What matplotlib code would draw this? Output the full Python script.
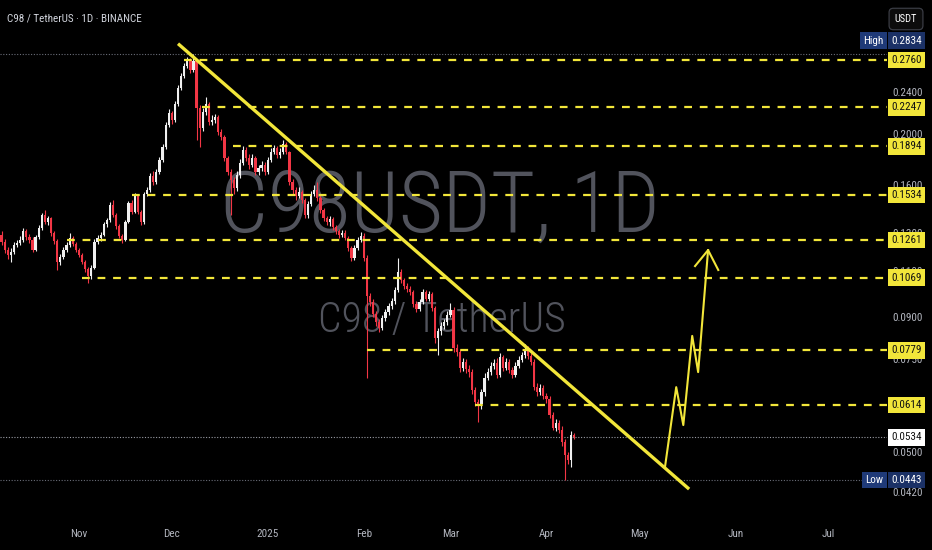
import matplotlib
matplotlib.use('Agg')
import matplotlib.pyplot as plt
import matplotlib.dates as mdates
import matplotlib.transforms as mtrans
from matplotlib import font_manager as fm
from matplotlib.ticker import FixedLocator, FixedFormatter, NullLocator
import pandas as pd

# ---- daily candles C98/USDT (Binance) ----
first_day = '2024-10-07'
first_open = 0.1288
closes = [0.1250, 0.1207, 0.1181, 0.1197, 0.1234, 0.1245, 0.1261, 0.1310, 0.1277, 0.1261,
          0.1207, 0.1277, 0.1327, 0.1405, 0.1363, 0.1387, 0.1299, 0.1256, 0.1146, 0.1171,
          0.1207, 0.1234, 0.1272, 0.1240, 0.1207, 0.1181, 0.1146, 0.1112, 0.1078, 0.1117,
          0.1250, 0.1272, 0.1288, 0.1351, 0.1375, 0.1468, 0.1405, 0.1339, 0.1283, 0.1261,
          0.1363, 0.1481, 0.1424, 0.1526, 0.1424, 0.1363, 0.1540, 0.1567, 0.1666, 0.1622,
          0.1695, 0.1786, 0.1890, 0.2079, 0.2191, 0.2125, 0.2278, 0.2442, 0.2573, 0.2688,
          0.2760, 0.2641, 0.2748, 0.2239, 0.2052, 0.2200, 0.2278, 0.2107, 0.2125, 0.2153,
          0.2017, 0.1974, 0.1802, 0.1695, 0.1637, 0.1581, 0.1673, 0.1762, 0.1865, 0.1802,
          0.1747, 0.1802, 0.1695, 0.1724, 0.1747, 0.1695, 0.1786, 0.1849, 0.1881, 0.1825,
          0.1849, 0.1914, 0.1849, 0.1622, 0.1567, 0.1526, 0.1553, 0.1500, 0.1405, 0.1474,
          0.1540, 0.1567, 0.1513, 0.1436, 0.1387, 0.1363, 0.1381, 0.1333, 0.1310, 0.1288,
          0.1299, 0.1272, 0.1218, 0.1166, 0.1218, 0.1261, 0.1283, 0.1166, 0.0989, 0.0963,
          0.0914, 0.0882, 0.0860, 0.0898, 0.0922, 0.0946, 0.0967, 0.1014, 0.1097, 0.1059,
          0.1033, 0.1019, 0.1006, 0.0954, 0.0934, 0.0963, 0.1006, 0.0975, 0.0997, 0.0938,
          0.0823, 0.0848, 0.0867, 0.0882, 0.0910, 0.0930, 0.0788, 0.0774, 0.0722, 0.0741,
          0.0719, 0.0710, 0.0656, 0.0623, 0.0618, 0.0650, 0.0692, 0.0710, 0.0729, 0.0738,
          0.0701, 0.0758, 0.0722, 0.0741, 0.0716, 0.0701, 0.0729, 0.0748, 0.0764, 0.0784,
          0.0761, 0.0741, 0.0665, 0.0650, 0.0662, 0.0639, 0.0631, 0.0589, 0.0557, 0.0567,
          0.0552, 0.0524, 0.0495, 0.0484, 0.0540, 0.0534]
highs = [0.1310, 0.1268, 0.1225, 0.1215, 0.1250, 0.1262, 0.1280, 0.1330, 0.1325, 0.1295,
         0.1275, 0.1290, 0.1345, 0.1420, 0.1436, 0.1400, 0.1395, 0.1310, 0.1265, 0.1185,
         0.1222, 0.1250, 0.1300, 0.1285, 0.1252, 0.1215, 0.1190, 0.1155, 0.1120, 0.1128,
         0.1265, 0.1290, 0.1305, 0.1365, 0.1390, 0.1490, 0.1500, 0.1415, 0.1350, 0.1295,
         0.1375, 0.1495, 0.1500, 0.1545, 0.1540, 0.1435, 0.1555, 0.1590, 0.1690, 0.1700,
         0.1715, 0.1810, 0.1915, 0.2110, 0.2230, 0.2215, 0.2310, 0.2480, 0.2610, 0.2730,
         0.2800, 0.2790, 0.2834, 0.2770, 0.2270, 0.2240, 0.2350, 0.2300, 0.2170, 0.2180,
         0.2170, 0.2040, 0.1990, 0.1820, 0.1720, 0.1660, 0.1700, 0.1790, 0.1900, 0.1890,
         0.1830, 0.1830, 0.1820, 0.1750, 0.1775, 0.1770, 0.1810, 0.1880, 0.1910, 0.1900,
         0.1880, 0.1948, 0.1930, 0.1860, 0.1645, 0.1590, 0.1590, 0.1570, 0.1515, 0.1495,
         0.1560, 0.1600, 0.1620, 0.1530, 0.1450, 0.1400, 0.1400, 0.1395, 0.1345, 0.1325,
         0.1318, 0.1315, 0.1285, 0.1230, 0.1235, 0.1275, 0.1305, 0.1300, 0.1180, 0.1000,
         0.0975, 0.0925, 0.0895, 0.0910, 0.0935, 0.0958, 0.0980, 0.1025, 0.1166, 0.1110,
         0.1070, 0.1045, 0.1030, 0.1015, 0.0965, 0.0975, 0.1020, 0.1015, 0.1010, 0.1005,
         0.0945, 0.0860, 0.0880, 0.0895, 0.0925, 0.0960, 0.0940, 0.0800, 0.0785, 0.0755,
         0.0750, 0.0730, 0.0720, 0.0665, 0.0632, 0.0660, 0.0705, 0.0722, 0.0740, 0.0750,
         0.0755, 0.0770, 0.0765, 0.0755, 0.0752, 0.0725, 0.0740, 0.0760, 0.0775, 0.0800,
         0.0795, 0.0770, 0.0750, 0.0675, 0.0672, 0.0670, 0.0648, 0.0638, 0.0595, 0.0578,
         0.0575, 0.0560, 0.0530, 0.0500, 0.0548, 0.0545]
lows = [0.1235, 0.1190, 0.1160, 0.1146, 0.1185, 0.1220, 0.1232, 0.1250, 0.1262, 0.1245,
        0.1195, 0.1200, 0.1268, 0.1318, 0.1350, 0.1345, 0.1285, 0.1240, 0.1107, 0.1130,
        0.1160, 0.1198, 0.1225, 0.1228, 0.1195, 0.1168, 0.1135, 0.1098, 0.1046, 0.1065,
        0.1110, 0.1238, 0.1255, 0.1280, 0.1335, 0.1365, 0.1395, 0.1325, 0.1270, 0.1245,
        0.1255, 0.1355, 0.1410, 0.1415, 0.1410, 0.1345, 0.1350, 0.1525, 0.1555, 0.1600,
        0.1610, 0.1680, 0.1770, 0.1875, 0.2060, 0.2090, 0.2105, 0.2255, 0.2420, 0.2550,
        0.2660, 0.2610, 0.2620, 0.1948, 0.1890, 0.2030, 0.2170, 0.2080, 0.2080, 0.2100,
        0.1995, 0.1950, 0.1780, 0.1670, 0.1405, 0.1540, 0.1560, 0.1650, 0.1745, 0.1780,
        0.1720, 0.1730, 0.1670, 0.1670, 0.1700, 0.1670, 0.1680, 0.1770, 0.1830, 0.1800,
        0.1805, 0.1835, 0.1830, 0.1600, 0.1540, 0.1500, 0.1510, 0.1480, 0.1385, 0.1390,
        0.1460, 0.1525, 0.1495, 0.1420, 0.1370, 0.1345, 0.1340, 0.1318, 0.1295, 0.1272,
        0.1275, 0.1258, 0.1200, 0.1150, 0.1155, 0.1205, 0.1250, 0.1150, 0.0690, 0.0945,
        0.0900, 0.0865, 0.0845, 0.0850, 0.0885, 0.0910, 0.0935, 0.0955, 0.1005, 0.1045,
        0.1020, 0.1005, 0.0990, 0.0940, 0.0920, 0.0925, 0.0955, 0.0965, 0.0965, 0.0925,
        0.0805, 0.0765, 0.0835, 0.0855, 0.0870, 0.0900, 0.0775, 0.0760, 0.0710, 0.0712,
        0.0705, 0.0695, 0.0645, 0.0612, 0.0570, 0.0605, 0.0640, 0.0685, 0.0700, 0.0720,
        0.0690, 0.0695, 0.0712, 0.0715, 0.0705, 0.0690, 0.0695, 0.0722, 0.0740, 0.0755,
        0.0752, 0.0732, 0.0655, 0.0640, 0.0642, 0.0630, 0.0620, 0.0580, 0.0550, 0.0548,
        0.0545, 0.0515, 0.0443, 0.0475, 0.0469, 0.0530]

# horizontal levels drawn on the chart and the day each one starts
levels = [0.2760, 0.2247, 0.1894, 0.1534, 0.1261, 0.1069, 0.0779, 0.0614]
level_starts = ['2024-12-05', '2024-12-10 17:00', '2024-12-20 19:00', '2024-11-18',
                '2024-10-28', '2024-11-02', '2025-02-02', '2025-03-09']

# falling trend line and projected path
trend_dates = ['2024-12-03', '2025-05-17 02:00']
trend_prices = [0.2963, 0.0426]
path_dates = ['2025-05-09 07:00', '2025-05-12 22:00', '2025-05-15 05:00',
              '2025-05-18 02:00', '2025-05-20', '2025-05-23 05:00']
path_prices = [0.0469, 0.0664, 0.0563, 0.0830, 0.0709, 0.1206]
head_dates = ['2025-05-19', '2025-05-23 05:00', '2025-05-26 12:00']
head_prices = [0.1125, 0.1206, 0.1106]

high_price, low_price, last_price = 0.2834, 0.0443, 0.0534

axis_ticks = [0.24, 0.20, 0.16, 0.13, 0.11, 0.09, 0.075, 0.05, 0.042]
axis_labels = ['0.2400', '0.2000', '0.1600', '0.1300', '0.1100', '0.0900', '0.0750', '0.0500', '0.0420']
month_ticks = ['2024-11-01', '2024-12-01', '2025-01-01', '2025-02-01', '2025-03-01',
               '2025-04-01', '2025-05-01', '2025-06-01', '2025-07-01']
month_labels = ['Nov', 'Dec', '2025', 'Feb', 'Mar', 'Apr', 'May', 'Jun', 'Jul']

# colours
BG = '#000000'
UP = '#f0f0f0'
DOWN = '#f23645'
YEL = '#f2e63a'
AXTXT = '#b2b5be'
WATER = '#51535c'

# narrow font if there is one (the screenshot text is condensed)
names = {f.name for f in fm.fontManager.ttflist}
narrow = 'Roboto'
for n in ['Roboto Condensed', 'Liberation Sans Narrow', 'Open Sans Condensed']:
    if n in names:
        narrow = n
        break
plt.rcParams['font.family'] = [narrow, 'DejaVu Sans']

fig = plt.figure(figsize=(9.32, 5.5), dpi=100, facecolor=BG)
ax = fig.add_axes([0, 32 / 550, 887 / 932, 518 / 550], facecolor=BG)
ax.set_yscale('log')

dates = mdates.date2num(pd.date_range(first_day, periods=len(closes), freq='D'))
opens = [first_open] + closes[:-1]
cols = [UP if c >= o else DOWN for o, c in zip(opens, closes)]
bottoms = [min(o, c) for o, c in zip(opens, closes)]
heights = [max(abs(c - o), 0.0002) for o, c in zip(opens, closes)]

ax.vlines(dates, lows, highs, colors=cols, linewidth=0.8, zorder=3)
ax.bar(dates, heights, bottom=bottoms, width=0.72, color=cols, linewidth=0, zorder=4)

ax.set_xlim(mdates.datestr2num('2024-10-06 12:00'), mdates.datestr2num('2025-07-20'))
ax.set_ylim(0.03756, 0.3584)
x_right = ax.get_xlim()[1]

# watermark
ax.text(0.496, 0.598, 'C98USDT, 1D', transform=ax.transAxes, ha='center', va='center',
        fontsize=61, fontweight='light', color=WATER, zorder=1)
ax.text(0.498, 0.381, 'C98 / TetherUS', transform=ax.transAxes, ha='center', va='center',
        fontsize=30, fontweight='light', color=WATER, zorder=1)

# levels
for p, s in zip(levels, level_starts):
    ax.plot([mdates.datestr2num(s), x_right], [p, p], color=YEL, linewidth=1.6,
            dashes=(3.5, 3.5), zorder=5)

# dotted markers for high / low / last
ax.axhline(high_price, color='#6a6d78', linewidth=0.8, linestyle=(0, (1, 1.5)), zorder=2)
ax.axhline(low_price, color='#6a6d78', linewidth=0.8, linestyle=(0, (1, 1.5)), zorder=2)
ax.axhline(last_price, color='#9a9ca4', linewidth=0.8, linestyle=(0, (1, 1.5)), zorder=2)

# trend line + projection
ax.plot(mdates.datestr2num(trend_dates), trend_prices, color=YEL, linewidth=2.4,
        solid_capstyle='butt', zorder=6)
ax.plot(mdates.datestr2num(path_dates), path_prices, color=YEL, linewidth=1.5, zorder=6)
ax.plot(mdates.datestr2num(head_dates), head_prices, color=YEL, linewidth=1.5, zorder=6)

# axes cosmetics
for sp in ax.spines.values():
    sp.set_visible(False)
ax.yaxis.tick_right()
ax.yaxis.set_major_locator(FixedLocator(axis_ticks))
ax.yaxis.set_major_formatter(FixedFormatter(axis_labels))
ax.yaxis.set_minor_locator(NullLocator())
ax.tick_params(axis='y', length=0, pad=4, labelsize=8, labelcolor=AXTXT)
ax.set_xticks(mdates.datestr2num(month_ticks))
ax.set_xticklabels(month_labels)
ax.tick_params(axis='x', length=0, pad=8, labelsize=8, labelcolor=AXTXT)

# price labels on the right scale
lab_tr = mtrans.offset_copy(mtrans.blended_transform_factory(ax.transAxes, ax.transData),
                            fig=fig, x=3, units='points')
for p in levels:
    ax.text(1.0, p, f'{p:.4f}', transform=lab_tr, ha='left', va='center', fontsize=8,
            color='#111111', clip_on=False, zorder=20,
            bbox=dict(boxstyle='square,pad=0.3', fc=YEL, ec='none'))
ax.text(1.0, last_price, f'{last_price:.4f}', transform=lab_tr, ha='left', va='center',
        fontsize=8, color='#111111', clip_on=False, zorder=20,
        bbox=dict(boxstyle='square,pad=0.3', fc='#ffffff', ec='none'))
ax.text(1.0, low_price, f'{low_price:.4f}', transform=lab_tr, ha='left', va='center',
        fontsize=8, color='#ffffff', clip_on=False, zorder=20,
        bbox=dict(boxstyle='square,pad=0.3', fc='#1b3166', ec='none'))
low_tr = mtrans.offset_copy(mtrans.blended_transform_factory(ax.transAxes, ax.transData),
                            fig=fig, x=-2.5, units='points')
ax.text(1.0, low_price, 'Low', transform=low_tr, ha='right', va='center', fontsize=8,
        color='#ffffff', clip_on=False, zorder=20,
        bbox=dict(boxstyle='square,pad=0.3', fc='#1f3a78', ec='none'))
hi_tr = mtrans.offset_copy(mtrans.blended_transform_factory(ax.transAxes, ax.transData),
                           fig=fig, x=3, y=9.5, units='points')
ax.text(1.0, high_price, f'{high_price:.4f}', transform=hi_tr, ha='left', va='center',
        fontsize=8, color='#ffffff', clip_on=False, zorder=20,
        bbox=dict(boxstyle='square,pad=0.3', fc='#1b3166', ec='none'))
hi_tr2 = mtrans.offset_copy(mtrans.blended_transform_factory(ax.transAxes, ax.transData),
                            fig=fig, x=-2.5, y=9.5, units='points')
ax.text(1.0, high_price, 'High', transform=hi_tr2, ha='right', va='center', fontsize=8,
        color='#ffffff', clip_on=False, zorder=20,
        bbox=dict(boxstyle='square,pad=0.3', fc='#1f3a78', ec='none'))

# header and currency button
fig.text(7 / 932, 1 - 18.5 / 550, 'C98 / TetherUS · 1D · BINANCE', ha='left', va='center',
         fontsize=8, color='#d1d4dc')
fig.text(906 / 932, 1 - 19 / 550, 'USDT', ha='center', va='center', fontsize=7.5,
         color='#ffffff',
         bbox=dict(boxstyle='round,pad=0.55,rounding_size=0.4', fc='#0c0c0c', ec='#3a3c44', lw=0.9))

fig.savefig('out.png', dpi=100, facecolor=BG)
